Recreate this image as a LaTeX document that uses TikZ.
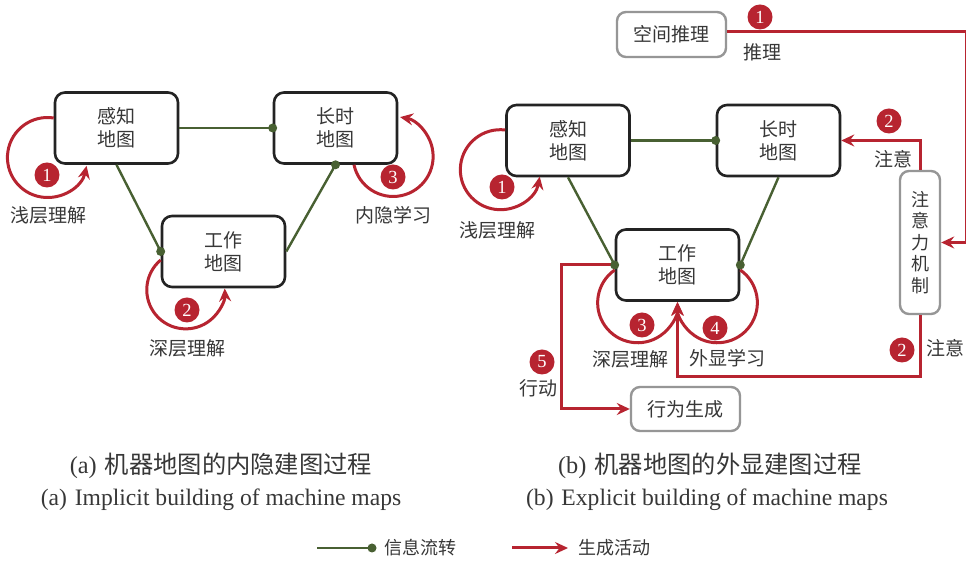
\documentclass[tikz,border=0pt]{standalone}
\usepackage{fontspec}
\setmainfont{Liberation Serif}
\newfontfamily\cjk{Noto Sans CJK SC}
\usetikzlibrary{arrows.meta,calc}
\definecolor{cred}{RGB}{183,36,48}
\definecolor{cgreen}{RGB}{72,96,50}
\definecolor{ctext}{RGB}{55,55,55}
\definecolor{cborder}{RGB}{35,35,35}
\definecolor{cgray}{RGB}{150,150,150}
\tikzset{
 mapbox/.style={draw=cborder, line width=2.6pt, rounded corners=10pt, minimum width=123pt, minimum height=71pt, inner sep=0pt, align=center, text=ctext, font=\cjk\fontsize{19}{23}\selectfont, fill=white},
 graybox/.style={draw=cgray, line width=2.4pt, rounded corners=9pt, inner sep=0pt, align=center, text=ctext, font=\cjk\fontsize{19}{23}\selectfont, fill=white},
 info/.style={draw=cgreen, line width=2.4pt},
 gen/.style={draw=cred, line width=3pt, -{Stealth[length=13pt,width=12pt,inset=4.5pt]}},
 badge/.style={circle, fill=cred, minimum size=25pt, inner sep=0pt, text=white, font=\fontsize{18.5}{18.5}\selectfont},
 lab/.style={text=ctext, font=\cjk\fontsize{19}{23}\selectfont, inner sep=0pt},
 capzh/.style={text=ctext, font=\cjk\fontsize{24.3}{26}\selectfont, inner sep=0pt},
 capen/.style={text=ctext, font=\fontsize{23.6}{26}\selectfont, inner sep=0pt},
 legtext/.style={text=ctext, font=\cjk\fontsize{18}{20}\selectfont, inner sep=0pt},
}
\newcommand{\gdot}[1]{\fill[cgreen] (#1) circle[radius=4.5pt];}
\begin{document}
\begin{tikzpicture}[x=1pt,y=1pt]
\useasboundingbox (0,0) rectangle (966,564);
\fill[white] (0,0) rectangle (966,564);

% ===== Panel (a) =====
\node[mapbox] (G) at (116.5,436) {感知\\地图};
\node[mapbox] (L) at (335.5,436) {长时\\地图};
\node[mapbox] (W) at (223.5,312.5) {工作\\地图};

\draw[info] (G.east) -- (L.west);
\draw[info] (G.south) -- (W.west);
\draw[info] (L.south) -- (W.east);
\gdot{L.west}
\gdot{W.west}
\gdot{L.south}

\draw[gen] ([yshift=10pt]G.west) arc[start angle=81, end angle=348, radius=40pt];
\draw[gen] ([yshift=-8.5pt]W.west) arc[start angle=130, end angle=362, radius=39pt];
\draw[gen] ([xshift=18.5pt]L.south) arc[start angle=192, end angle=440, radius=40pt];

\node[badge] (a1) at (47,389) {1};
\node[badge] (a2) at (187,254) {2};
\node[badge] (a3) at (393,387) {3};
\node[lab] (la1) at (48,349) {浅层理解};
\node[lab] (la2) at (187,216) {深层理解};
\node[lab] (la3) at (393,349) {内隐学习};

% ===== Panel (b) =====
\node[mapbox] (G2) at (568,423.5) {感知\\地图};
\node[mapbox] (L2) at (778.5,423.5) {长时\\地图};
\node[mapbox] (W2) at (677.5,299) {工作\\地图};
\node[graybox, minimum width=109pt, minimum height=45pt] (S) at (671.5,529.5) {空间推理};
\node[graybox, minimum width=40pt, minimum height=143pt, font=\cjk\fontsize{18}{21.5}\selectfont] (A) at (920,321.5) {注\\意\\力\\机\\制};
\node[graybox, minimum width=109pt, minimum height=44pt] (B) at (685.5,155) {行为生成};

\draw[info] (G2.east) -- (L2.west);
\draw[info] (G2.south) -- (W2.west);
\draw[info] (L2.south) -- (W2.east);

\draw[gen] ([yshift=2.5pt]S.east) -| ($(A.east)+(25,0)$) -- (A.east);
\draw[gen] (A.north) |- (L2.east);
\draw[gen] (A.south) -- ++(0,-61) -| (W2.south);
\draw[gen] ([yshift=-5pt]W2.west) arc[start angle=125, end angle=360, radius=40pt];
\draw[gen] ([yshift=-5pt]W2.east) arc[start angle=55, end angle=-180, radius=40pt];
\draw[gen] (W2.west) -- ++(-53,0) |- (B.west);
\draw[gen] ([yshift=10.5pt]G2.west) arc[start angle=83, end angle=350, radius=40pt];

\gdot{L2.west}
\gdot{W2.west}
\gdot{W2.east}

\node[badge] (b1) at (760,547) {1};
\node[badge] (b2a) at (889,443) {2};
\node[badge] (b2b) at (902,214) {2};
\node[badge] (b3) at (642,239) {3};
\node[badge] (b4) at (715,236) {4};
\node[badge] (b5) at (542,202) {5};
\node[badge] (b1l) at (502,377) {1};

\node[lab] (lb1) at (762,512) {推理};
\node[lab] (lb2) at (893,405) {注意};
\node[lab] (lb3) at (945,216) {注意};
\node[lab] (lb4) at (630,205) {深层理解};
\node[lab] (lb5) at (727,206) {外显学习};
\node[lab] (lb6) at (538,176) {行动};
\node[lab] (lb7) at (497,334) {浅层理解};

% ===== Captions =====
\node[capzh] (ca1) at (221,98) {{\rmfamily (a)\,\,}机器地图的内隐建图过程};
\node[capen] (ca2) at (221,64) {(a)\,\,Implicit building of machine maps};
\node[capzh] (cb1) at (710,98) {{\rmfamily (b)\,\,}机器地图的外显建图过程};
\node[capen] (cb2) at (707,64) {(b)\,\,Explicit building of machine maps};

% ===== Legend =====
\coordinate (lg1) at (317,16);
\coordinate (lg2) at (372,16);
\draw[info] (lg1) -- (lg2);
\gdot{lg2}
\node[legtext] (lt1) at (420,16) {信息流转};
\coordinate (lr1) at (512,16);
\coordinate (lr2) at (568,16);
\draw[gen] (lr1) -- (lr2);
\node[legtext] (lt2) at (614,16) {生成活动};
\end{tikzpicture}
\end{document}
